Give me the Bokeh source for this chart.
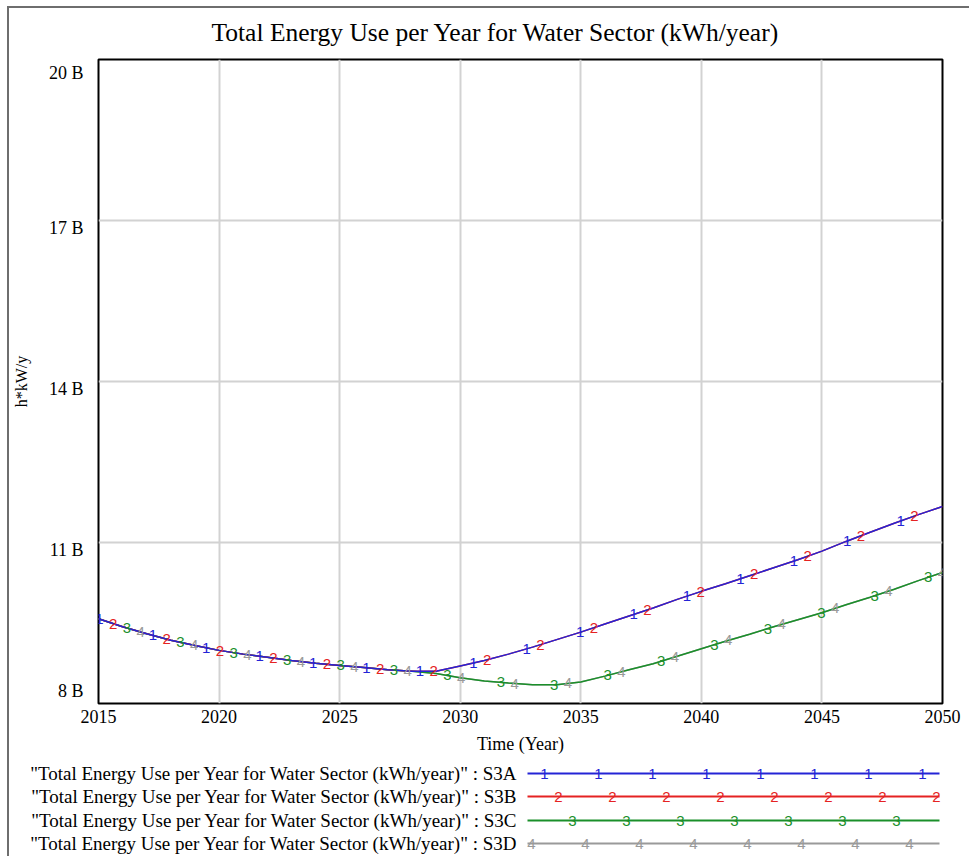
import numpy as np
from bokeh.plotting import figure
from bokeh.models import Range1d, FixedTicker
from bokeh.embed import file_html
from bokeh.resources import INLINE
from bokeh.core.properties import value

# ---------------- data (billions of kWh per year) ----------------
years = list(range(2015, 2051))
s3a = [9.58, 9.43, 9.30, 9.18, 9.08, 8.99, 8.92, 8.86, 8.80, 8.75, 8.71, 8.67,
       8.63, 8.60, 8.60, 8.70, 8.80, 8.92, 9.05, 9.19, 9.33, 9.48, 9.63, 9.78,
       9.94, 10.09, 10.23, 10.38, 10.53, 10.68, 10.84, 11.02, 11.19, 11.36, 11.52, 11.67]
s3b = [9.58, 9.43, 9.30, 9.18, 9.08, 8.99, 8.92, 8.86, 8.80, 8.75, 8.71, 8.67,
       8.63, 8.60, 8.60, 8.70, 8.80, 8.92, 9.05, 9.19, 9.33, 9.48, 9.63, 9.78,
       9.94, 10.09, 10.23, 10.38, 10.53, 10.68, 10.84, 11.02, 11.19, 11.36, 11.52, 11.67]
s3c = [9.58, 9.43, 9.30, 9.18, 9.08, 8.99, 8.92, 8.86, 8.80, 8.75, 8.71, 8.67,
       8.63, 8.60, 8.56, 8.48, 8.42, 8.38, 8.35, 8.35, 8.40, 8.51, 8.63, 8.74,
       8.88, 9.02, 9.16, 9.29, 9.43, 9.56, 9.69, 9.84, 9.98, 10.13, 10.29, 10.44]
s3d = [9.58, 9.43, 9.30, 9.18, 9.08, 8.99, 8.92, 8.86, 8.80, 8.75, 8.71, 8.67,
       8.63, 8.60, 8.56, 8.48, 8.42, 8.38, 8.35, 8.35, 8.40, 8.51, 8.63, 8.74,
       8.88, 9.02, 9.16, 9.29, 9.43, 9.56, 9.69, 9.84, 9.98, 10.13, 10.29, 10.44]

series_values = [s3a, s3b, s3c, s3d]
series_names = ["S3A", "S3B", "S3C", "S3D"]
series_marks = ["1", "2", "3", "4"]
legend_prefix = '"Total Energy Use per Year for Water Sector (kWh/year)" : '

x_ticks = [2015, 2020, 2025, 2030, 2035, 2040, 2045, 2050]
y_ticks = [8, 11, 14, 17, 20]
y_tick_labels = ["8 B", "11 B", "14 B", "17 B", "20 B"]

title_text = "Total Energy Use per Year for Water Sector (kWh/year)"
x_label = "Time (Year)"
y_label = "h*kW/y"

# ---------------- style / layout ----------------
colors = ["#2424d6", "#e52222", "#1a8f2a", "#9a9a9a"]
SERIF = "Liberation Serif"
SANS = "Liberation Sans"
MARK_SIZE = "15px"
EDGE = "2px solid #6e6e6e"

PAD_L, PAD_T = 9, 8            # canvas starts after the window edge lines
FRAME_L, FRAME_R = 92, 942      # page pixels
FRAME_T, FRAME_B = 59, 703
TITLE_BOTTOM = 53
MAIN_BOTTOM = 762
PAGE_W, PAGE_H = 971, 856
TITLE_X, TITLE_Y = 495, 32

# vertical nudges of y tick labels (pixels, + = down) as drawn by the reference tool
px_per_unit = (FRAME_B - FRAME_T) / (y_ticks[-1] - y_ticks[0])
label_nudge_px = {8: -13, 11: 7, 14: 7, 17: 7, 20: 13}
y_label_pos = [t - label_nudge_px[t] / px_per_unit for t in y_ticks]

# marker placement along the lines (years)
mark_start = 2015.04
mark_step = 2.215
mark_shift = 0.57

edge_left = {"margin-left": f"{PAD_L - 2}px", "border-left": EDGE}
edge_top_left = {"margin-left": f"{PAD_L - 2}px", "margin-top": f"{PAD_T - 2}px",
                 "border-left": EDGE, "border-top": EDGE}


def blank_strip(height, y_top, styles):
    f = figure(width=PAGE_W - PAD_L, height=height,
               x_range=Range1d(PAD_L, PAGE_W), y_range=Range1d(y_top + height, y_top),
               output_backend="svg", toolbar_location=None, min_border=0,
               styles=styles)
    f.axis.visible = False
    f.grid.visible = False
    f.outline_line_color = None
    f.background_fill_color = "white"
    f.border_fill_color = "white"
    return f


# ---------------- title strip ----------------
t = blank_strip(TITLE_BOTTOM - PAD_T + 2, PAD_T, edge_top_left)
t.text(x=[TITLE_X], y=[TITLE_Y], text=[title_text],
       text_font=value(SERIF), text_font_size="25.5px", text_color="black",
       text_align="center", text_baseline="middle")

# ---------------- main chart ----------------
p = figure(width=PAGE_W - PAD_L, height=MAIN_BOTTOM - TITLE_BOTTOM,
           x_range=Range1d(2015, 2050), y_range=Range1d(8, 20),
           output_backend="svg", toolbar_location=None,
           min_border_left=FRAME_L - PAD_L, min_border_right=PAGE_W - FRAME_R,
           min_border_top=FRAME_T - TITLE_BOTTOM, min_border_bottom=MAIN_BOTTOM - FRAME_B,
           styles=edge_left)
p.background_fill_color = "white"
p.border_fill_color = "white"

p.outline_line_color = "black"
p.outline_line_width = 2
p.outline_line_alpha = 1

for ax in (p.xaxis[0], p.yaxis[0]):
    ax.axis_line_color = None
    ax.major_tick_line_color = None
    ax.minor_tick_line_color = None
    ax.major_tick_out = 0
    ax.major_tick_in = 0
    ax.major_label_text_font = SERIF
    ax.major_label_text_font_size = "18px"
    ax.major_label_text_color = "black"
    ax.axis_label_text_font = SERIF
    ax.axis_label_text_font_style = "normal"
    ax.axis_label_text_color = "black"

p.xaxis.ticker = FixedTicker(ticks=x_ticks)
p.xaxis.major_label_standoff = 6
p.xaxis.axis_label = x_label
p.xaxis.axis_label_text_font_size = "18px"
p.xaxis.axis_label_standoff = 8

p.yaxis.ticker = FixedTicker(ticks=y_label_pos)
p.yaxis.major_label_overrides = {pos: lab for pos, lab in zip(y_label_pos, y_tick_labels)}
p.yaxis.major_label_standoff = 15
p.yaxis.axis_label = y_label
p.yaxis.axis_label_text_font_size = "16px"
p.yaxis.axis_label_standoff = 16

p.xgrid.ticker = FixedTicker(ticks=x_ticks)
p.ygrid.ticker = FixedTicker(ticks=y_ticks)
for g in (p.xgrid[0], p.ygrid[0]):
    g.grid_line_color = "#d2d2d2"
    g.grid_line_width = 2

# lines: last series first so that series 1 lies on top
for k in reversed(range(4)):
    p.line(years, series_values[k], line_color=colors[k], line_width=1.5)

# numbered markers along each line
for k in range(4):
    first = mark_start + k * mark_shift
    mx = np.arange(first, 2050.01, mark_step)
    my = np.interp(mx, years, series_values[k])
    p.text(x=mx, y=my, text=[series_marks[k]] * len(mx),
           text_font=value(SANS), text_font_size=MARK_SIZE,
           text_color=colors[k], text_align="center", text_baseline="middle")

# ---------------- legend strip (page-pixel coordinates) ----------------
lf = blank_strip(PAGE_H - MAIN_BOTTOM, MAIN_BOTTOM, edge_left)

row_y = [773, 796, 820, 843]
text_right = 517
line_x0, line_x1 = 527, 939
mark_x0 = [544, 558, 572, 531]
mark_dx = 54
mark_n = [8, 8, 7, 8]

lf.text(x=[text_right] * 4, y=row_y,
        text=[legend_prefix + n for n in series_names],
        text_font=value(SERIF), text_font_size="19px", text_color="black",
        text_align="right", text_baseline="middle")
lf.segment(x0=[line_x0] * 4, y0=row_y, x1=[line_x1] * 4, y1=row_y,
           line_color=colors, line_width=2)
for k in range(4):
    mx = [mark_x0[k] + i * mark_dx for i in range(mark_n[k])]
    lf.text(x=mx, y=[row_y[k]] * len(mx), text=[series_marks[k]] * len(mx),
            text_font=value(SANS), text_font_size=MARK_SIZE,
            text_color=colors[k], text_align="center", text_baseline="middle")

open("out.html", "w").write(file_html([t, p, lf], INLINE))
